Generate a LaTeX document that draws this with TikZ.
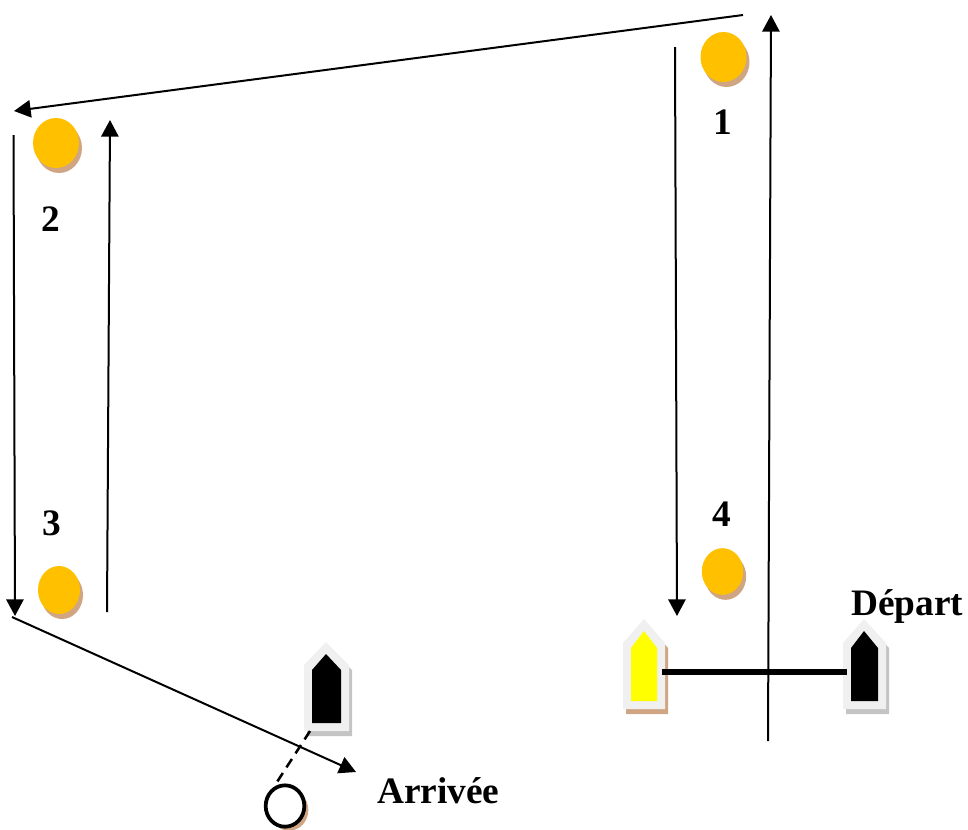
\documentclass[tikz,border=0pt]{standalone}
\usepackage{fontspec}
\setmainfont{Liberation Serif}
\usetikzlibrary{arrows.meta,shapes.geometric,shadows}
\definecolor{buoyorange}{HTML}{FFC000}
\definecolor{shadowtan}{HTML}{CFA583}
\definecolor{hullgrey}{HTML}{F0F0F0}
\definecolor{shadowgrey}{HTML}{C4C4C4}
\definecolor{hullyellow}{HTML}{FFFF00}
\tikzset{
  course/.style={line width=1.5pt,-{Triangle[length=12.5pt,width=13pt]}},
  buoy/.style={ellipse,fill=buoyorange,inner sep=0pt,general shadow={shadow xshift=2.25pt,shadow yshift=-3.75pt,fill=shadowtan}},
  goalring/.style={ellipse,draw=black,fill=white,line width=2.8pt,inner sep=0pt,general shadow={shadow xshift=3pt,shadow yshift=-3pt,fill=shadowtan}},
  lbl/.style={font=\bfseries\fontsize{28pt}{28pt}\selectfont,anchor=base,inner sep=0pt},
  anchorbox/.style={rectangle,inner sep=0pt,draw=none,fill=none},
}
% #1 name, #2 left, #3 apex x, #4 right, #5 top, #6 bottom, #7 inner fill, #8 shadow colour, #9 shoulder y
\newcommand{\myboat}[9]{%
  \fill[#8] ({#2+3},{#9+5}) -- ({#3+3},{#5+5}) -- ({#4+3},{#9+5}) -- ({#4+3},{#6+5}) -- ({#2+3},{#6+5}) -- cycle;
  \fill[hullgrey] (#2,#9) -- (#3,#5) -- (#4,#9) -- (#4,#6) -- (#2,#6) -- cycle;
  \fill[#7] ({#2+8},{#9+5}) -- (#3,{#5+12}) -- ({#4-8},{#9+5}) -- ({#4-8},{#6-8}) -- ({#2+8},{#6-8}) -- cycle;
  \node[anchorbox,minimum width={(#4-#2)*0.75pt},minimum height={(#6-#5)*0.75pt}] (#1) at ({(#2+#4)/2},{(#5+#6)/2}) {};
}
\begin{document}
\begin{tikzpicture}[x=0.75pt,y=-0.75pt]
\useasboundingbox (0,0) rectangle (968,829);
% boats
\myboat{boatY}{623}{644}{665}{619}{709}{hullyellow}{shadowtan}{643}
\myboat{boatD}{843}{864}{886}{619}{709}{black}{shadowgrey}{643}
\myboat{boatA}{304}{326}{349}{642}{731}{black}{shadowgrey}{665}
% buoys
\node[buoy,minimum width=34.5pt,minimum height=37.5pt] (b1) at (723.5,57) {};
\node[buoy,minimum width=34.5pt,minimum height=37.5pt] (b2) at (56,143) {};
\node[buoy,minimum width=31.5pt,minimum height=36pt] (b3) at (59,590) {};
\node[buoy,minimum width=31pt,minimum height=35pt] (b4) at (722.5,571.5) {};
\node[goalring,minimum width=29pt,minimum height=31pt] (goal) at (285,806) {};
% course ends
\coordinate (a1) at (743,15);
\coordinate (a2) at (14,111);
\coordinate (c1) at (768,741);
\coordinate (c2) at (771,15);
\coordinate (d1) at (675,47);
\coordinate (d2) at (677,616);
\coordinate (e1) at (13.5,135);
\coordinate (e2) at (15,616);
\coordinate (f1) at (107,612);
\coordinate (f2) at (110,120);
\coordinate (g1) at (12,617);
\coordinate (g2) at (356,772);
\coordinate (boatAfoot) at (310,731);
\coordinate (boatYside) at (662,672);
\coordinate (boatDside) at (847,672);
\draw[course] (a1) -- (a2);
\draw[course] (c1) -- (c2);
\draw[course] (d1) -- (d2);
\draw[course] (e1) -- (e2);
\draw[course] (f1) -- (f2);
\draw[course] (g1) -- (g2);
\draw[line width=4.4pt] (boatYside) -- (boatDside);
\draw[line width=1.9pt,dash pattern=on 7.5pt off 5pt] (boatAfoot) -- (goal.120);
% labels
\node[lbl] (n1) at (723,134) {1};
\node[lbl] (n2) at (51,231) {2};
\node[lbl] (n3) at (52,535) {3};
\node[lbl] (n4) at (722,526) {4};
\node[lbl,anchor=base west] (dep) at (851,615) {Départ};
\node[lbl,anchor=base west] (arr) at (377,803) {Arrivée};
\end{tikzpicture}
\end{document}
